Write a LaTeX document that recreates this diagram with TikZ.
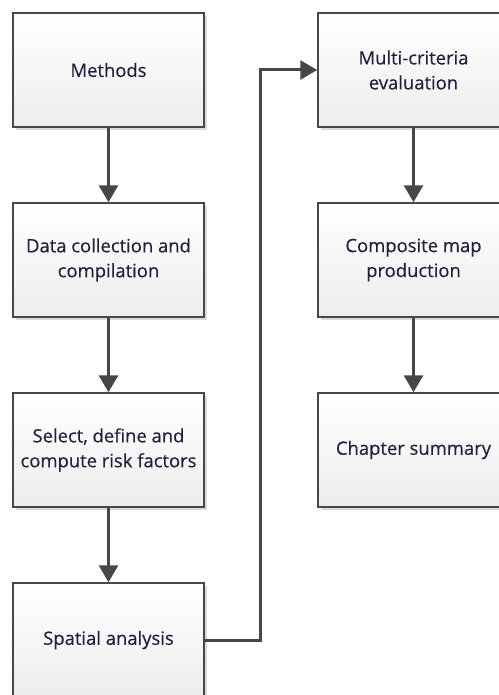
\documentclass[tikz,border=0pt]{standalone}
\usepackage{fontspec}
\setmainfont{Open Sans}
\newfontfamily\labelfont[FakeBold=0.25]{Open Sans}
\usetikzlibrary{arrows.meta,shadows}
\definecolor{edgegrey}{HTML}{474747}
\definecolor{boxgrey}{HTML}{EDEDED}
\definecolor{shadowgrey}{HTML}{DADADA}
\definecolor{labeltext}{HTML}{20203A}
\begin{document}
\begin{tikzpicture}[x=1bp,y=-1bp,
  stage/.style={draw=edgegrey, line width=1.5bp,
    minimum width=191bp, minimum height=114bp, inner sep=0pt,
    top color=white, bottom color=boxgrey,
    drop shadow={shadow xshift=3bp, shadow yshift=-3bp, fill=shadowgrey, opacity=1},
    font=\labelfont\fontsize{18.5}{25}\selectfont, text=labeltext, align=center},
  flow/.style={draw=edgegrey, line width=3bp,
    -{Triangle[width=19bp,length=17bp]}}]
\useasboundingbox (0,0) rectangle (499,695);
\clip (0,0) rectangle (499,695);

% left column
\node[stage] (methods)  at (108.5,70)  {Methods};
\node[stage] (data)     at (108.5,260) {Data collection and\\compilation};
\node[stage] (risk)     at (108.5,450) {Select, define and\\compute risk factors};
\node[stage] (spatial)  at (108.5,640) {Spatial analysis};

% right column
\node[stage] (mce)      at (413.5,70)  {Multi-criteria\\evaluation};
\node[stage] (map)      at (413.5,260) {Composite map\\production};
\node[stage] (summary)  at (413.5,450) {Chapter summary};

% connectors
\draw[flow] (methods) -- (data);
\draw[flow] (data) -- (risk);
\draw[flow] (risk) -- (spatial);
\coordinate (bend) at (260,640);
\draw[flow] (spatial.east) -- (bend) |- (mce.west);
\draw[flow] (mce) -- (map);
\draw[flow] (map) -- (summary);
\end{tikzpicture}
\end{document}
